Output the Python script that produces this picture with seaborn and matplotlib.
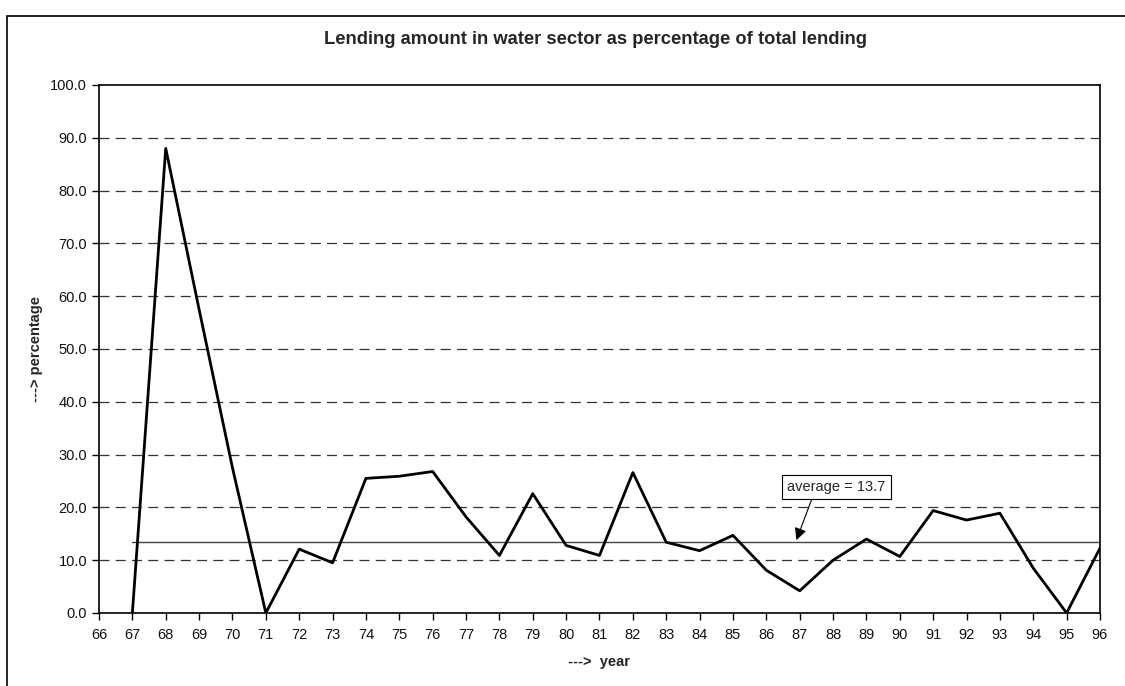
import matplotlib
matplotlib.use("Agg")
import matplotlib.pyplot as plt
import matplotlib.patches as mpatches
import seaborn as sns
import pandas as pd

# values
years = [67, 68, 69, 70, 71, 72, 73, 74, 75, 76, 77, 78, 79, 80, 81,
         82, 83, 84, 85, 86, 87, 88, 89, 90, 91, 92, 93, 94, 95, 96]
share = [0.0, 88.0, 57.5, 27.5, 0.0, 12.1, 9.5, 25.5, 25.9, 26.8, 18.2, 10.9, 22.6, 12.8, 10.9,
         26.6, 13.4, 11.8, 14.7, 8.1, 4.2, 10.0, 14.0, 10.7, 19.4, 17.6, 18.9, 8.5, 0.0, 12.3]
avg_level = [13.5, 13.5]
avg_span = [67, 96]
avg_label = "average = 13.7"
x_ticks = list(range(66, 97))
y_ticks = [0, 10, 20, 30, 40, 50, 60, 70, 80, 90, 100]

df = pd.DataFrame({"year": years, "share": share})
avg_df = pd.DataFrame({"year": avg_span, "share": avg_level})

sns.set_style("white")
plt.rcParams["font.family"] = ["Liberation Sans", "DejaVu Sans"]

fig = plt.figure(figsize=(11.25, 6.86), dpi=100)
W, H = 1125, 686
ax = fig.add_axes([99 / W, 1 - 613 / H, (1100 - 99) / W, (613 - 85) / H])

# outer chart frame (cut off on the right and bottom in the reference)
frame = mpatches.Rectangle((7 / W, -0.05), 1.2, (1 - 16 / H) + 0.05, transform=fig.transFigure,
                           fill=False, edgecolor="black", linewidth=1.2, clip_on=False)
fig.patches.append(frame)

# horizontal dashed grid
for yv in y_ticks[1:-1]:
    ax.axhline(yv, color="#333333", linewidth=0.9, linestyle=(0, (8, 5)), zorder=1)

sns.lineplot(data=avg_df, x="year", y="share", color="#444444", linewidth=1.0, ax=ax, zorder=2)
sns.lineplot(data=df, x="year", y="share", color="black", linewidth=2.0, ax=ax, zorder=3)

ax.set_xlim(66, 96)
ax.set_ylim(0, 100)
ax.set_xticks(x_ticks)
ax.set_xticklabels([str(v) for v in x_ticks])
ax.set_yticks(y_ticks)
ax.set_yticklabels([f"{v:.1f}" for v in y_ticks])
ax.tick_params(axis="both", which="major", direction="out", length=5, width=1,
               color="black", labelsize=10.5, labelcolor="#111111", bottom=True, left=True)
ax.tick_params(axis="x", pad=6)
for side in ["left", "right", "top", "bottom"]:
    ax.spines[side].set_visible(True)
    ax.spines[side].set_color("black")
    ax.spines[side].set_linewidth(1.2)

ax.set_xlabel("--->  year", fontsize=10.5, fontweight="bold", labelpad=9)
ax.set_ylabel("---> percentage", fontsize=10.5, fontweight="bold", labelpad=5)

ax.annotate(avg_label, xy=(86.9, 13.8), xytext=(88.1, 23.9),
            fontsize=10.5, ha="center", va="center",
            bbox=dict(boxstyle="square,pad=0.35", facecolor="white", edgecolor="black", linewidth=0.8),
            arrowprops=dict(arrowstyle="-|>", color="black", lw=0.8, mutation_scale=18,
                            relpos=(0.27, 0.0), shrinkA=0, shrinkB=0),
            zorder=5)

fig.text(595 / W, 1 - 40 / H, "Lending amount in water sector as percentage of total lending",
         ha="center", va="center", fontsize=13.2, fontweight="bold")

fig.savefig("out.png", dpi=100)
